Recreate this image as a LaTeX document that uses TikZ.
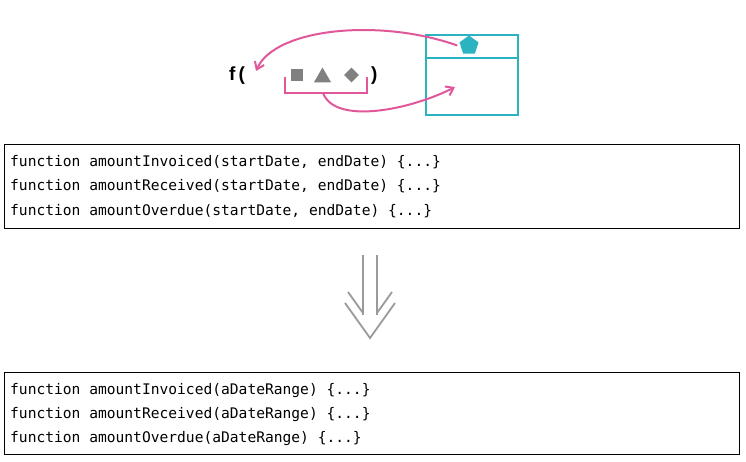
\documentclass[tikz,border=0pt]{standalone}
\usepackage{fontspec}
\setmainfont{Liberation Sans}
\setmonofont{DejaVu Sans Mono}
\usetikzlibrary{arrows.meta,shapes.geometric}
\definecolor{pinkc}{HTML}{E0589A}
\definecolor{cyanc}{HTML}{2BB3C2}
\definecolor{grayc}{HTML}{808080}
\definecolor{arrowg}{HTML}{9A9A9A}
\tikzset{
  codebox/.style={draw=black, line width=0.9pt},
  codeline/.style={anchor=base west, inner sep=0pt, font=\fontsize{14.6}{16}\ttfamily},
  pinkarrow/.style={draw=pinkc, line width=2pt, -{Straight Barb[length=7pt,width=10pt]}},
  gshape/.style={fill=grayc, draw=none},
  downarrow/.style={draw=arrowg, line width=1.8pt},
}
\begin{document}
\begin{tikzpicture}[x=1pt,y=-1pt]
\useasboundingbox (0,0) rectangle (746,462);
% top illustration
\node[anchor=base west, inner sep=0pt, font=\fontsize{19}{21}\bfseries] (f) at (229,81) {f\,(};
\node[gshape, rectangle, minimum width=12.5pt, minimum height=12.5pt, inner sep=0pt] (sq) at (297,75) {};
\node[gshape, regular polygon, regular polygon sides=3, minimum size=20pt, inner sep=0pt] (tri) at (322.5,77.5) {};
\node[gshape, diamond, minimum size=15pt, inner sep=0pt] (dia) at (351.5,75) {};
\node[anchor=base west, inner sep=0pt, font=\fontsize{19}{21}\bfseries] (cp) at (371,81) {)};
\coordinate (bl) at (285,77);
\coordinate (br) at (367,77);
\draw[pinkc, line width=2pt] (bl) -- (285,93) -- (367,93) -- (br);
\coordinate (bmid) at (323,93);
% cyan box
\node[draw=cyanc, line width=2pt, minimum width=92pt, minimum height=80pt, inner sep=0pt, anchor=north west] (box) at (425,34) {};
\draw[cyanc, line width=2pt] (425,58) -- (517,58);
\node[fill=cyanc, regular polygon, regular polygon sides=5, minimum size=20pt, inner sep=0pt] (pent) at (469,45.5) {};
\coordinate (into) at (455,87);
\coordinate (fend) at (256,71);
% pink arrows
\draw[pinkarrow] ([xshift=-3pt]pent.west) .. controls (380,18) and (275,28) .. (fend);
\draw[pinkarrow] (bmid) .. controls (335,125) and (410,110) .. (into);
% code boxes
\node[codebox, anchor=north west, minimum width=735pt, minimum height=84pt, inner sep=0pt] (top) at (4,144) {};
\node[codeline] (t1) at (10,167) {function amountInvoiced(startDate, endDate) \{...\}};
\node[codeline] (t2) at (10,191) {function amountReceived(startDate, endDate) \{...\}};
\node[codeline] (t3) at (10,215.5) {function amountOverdue(startDate, endDate) \{...\}};
\node[codebox, anchor=north west, minimum width=735pt, minimum height=82pt, inner sep=0pt] (bot) at (4,372) {};
\node[codeline] (b1) at (10,394) {function amountInvoiced(aDateRange) \{...\}};
\node[codeline] (b2) at (10,418) {function amountReceived(aDateRange) \{...\}};
\node[codeline] (b3) at (10,442) {function amountOverdue(aDateRange) \{...\}};
% double down arrow
\draw[downarrow] (363,255) -- (363,315);
\draw[downarrow] (377,255) -- (377,315);
\draw[downarrow] (348,292) -- (363,313);
\draw[downarrow] (392,292) -- (377,313);
\draw[downarrow] (345,303) -- (370,338) -- (395,303);
\end{tikzpicture}
\end{document}
